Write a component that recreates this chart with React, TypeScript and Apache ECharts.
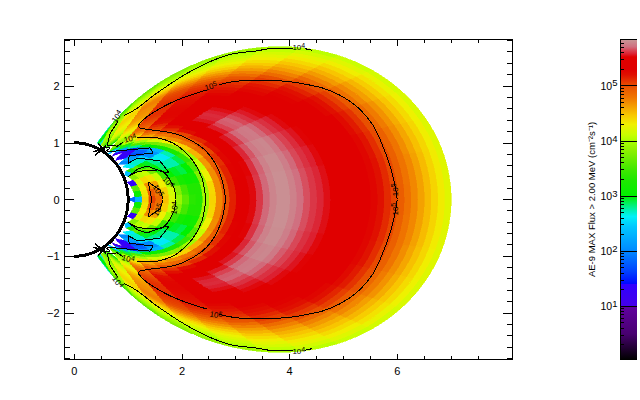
import React, { useEffect, useRef } from "react";
import * as echarts from "echarts";

const latitudeStep = 5;
const shellWidth = 0.125;
const shellCenters = [
  6.9375, 6.8125, 6.6875, 6.5625, 6.4375, 6.3125, 6.1875, 6.0625, 5.9375, 5.8125, 5.6875, 5.5625,
  5.4375, 5.3125, 5.1875, 5.0625, 4.9375, 4.8125, 4.6875, 4.5625, 4.4375, 4.3125, 4.1875, 4.0625,
  3.9375, 3.8125, 3.6875, 3.5625, 3.4375, 3.3125, 3.1875, 3.0625, 2.9375, 2.8125, 2.6875, 2.5625,
  2.4375, 2.3125, 2.1875, 2.0625, 1.9375, 1.8125, 1.6875, 1.5625, 1.4375, 1.3125, 1.1875, 1.0625,
];
// log10 flux along each shell, one value per 5 degrees of magnetic latitude
const logFlux = [
  [4.22, 4.22, 4.21, 4.19, 4.16, 4.12, 4.07, 4.0, 3.93, 3.85, 3.76, 3.6, 3.4, 2.6],
  [4.32, 4.32, 4.31, 4.29, 4.26, 4.22, 4.16, 4.09, 4.01, 3.92, 3.83, 3.72, 3.5, 2.8],
  [4.42, 4.42, 4.41, 4.39, 4.36, 4.31, 4.25, 4.17, 4.08, 3.99, 3.9, 3.82, 3.6, 2.9],
  [4.52, 4.52, 4.5, 4.48, 4.45, 4.39, 4.32, 4.24, 4.14, 4.05, 3.98, 3.92, 3.7, 3.0],
  [4.62, 4.62, 4.6, 4.58, 4.54, 4.48, 4.4, 4.31, 4.21, 4.12, 4.05, 3.98, 3.8, 3.0],
  [4.72, 4.72, 4.7, 4.68, 4.63, 4.56, 4.48, 4.38, 4.28, 4.2, 4.12, 4.03, 3.85, 3.05],
  [4.82, 4.81, 4.8, 4.77, 4.72, 4.65, 4.56, 4.46, 4.36, 4.28, 4.2, 4.1, 3.9, 3.1],
  [4.93, 4.92, 4.91, 4.87, 4.82, 4.74, 4.64, 4.55, 4.45, 4.37, 4.28, 4.16, 3.95, 3.1],
  [5.03, 5.03, 5.02, 5.0, 4.95, 4.86, 4.74, 4.64, 4.55, 4.47, 4.37, 4.22, 3.98, 3.0],
  [5.12, 5.12, 5.11, 5.09, 5.05, 5.0, 4.85, 4.74, 4.66, 4.58, 4.46, 4.28, 4.0, 2.9],
  [5.2, 5.2, 5.19, 5.17, 5.13, 5.07, 5.0, 4.84, 4.76, 4.68, 4.55, 4.34, 4.02, 2.8],
  [5.27, 5.27, 5.26, 5.24, 5.2, 5.14, 5.06, 4.97, 4.87, 4.78, 4.64, 4.38, 4.02, 2.7],
  [5.33, 5.33, 5.32, 5.3, 5.26, 5.2, 5.12, 5.02, 4.97, 4.9, 4.72, 4.42, 4.0, 2.5],
  [5.38, 5.38, 5.37, 5.35, 5.31, 5.25, 5.18, 5.1, 5.04, 5.0, 4.75, 4.42, 3.98, 2.4],
  [5.42, 5.42, 5.41, 5.39, 5.35, 5.29, 5.22, 5.14, 5.08, 5.03, 4.75, 4.4, 3.95],
  [5.45, 5.45, 5.44, 5.42, 5.38, 5.33, 5.26, 5.18, 5.12, 5.05, 4.72, 4.38, 3.92],
  [5.48, 5.48, 5.47, 5.45, 5.42, 5.37, 5.3, 5.22, 5.15, 5.07, 4.7, 4.35, 3.9],
  [5.52, 5.52, 5.51, 5.49, 5.46, 5.42, 5.35, 5.27, 5.18, 5.09, 4.7, 4.33, 3.88],
  [5.55, 5.55, 5.54, 5.53, 5.5, 5.46, 5.4, 5.31, 5.2, 5.1, 4.68, 4.3, 3.85],
  [5.59, 5.59, 5.58, 5.56, 5.54, 5.5, 5.44, 5.34, 5.22, 5.1, 4.66, 4.28, 3.8],
  [5.62, 5.62, 5.61, 5.6, 5.58, 5.54, 5.48, 5.37, 5.23, 5.1, 4.64, 4.25, 3.7],
  [5.66, 5.66, 5.65, 5.64, 5.61, 5.57, 5.51, 5.4, 5.25, 5.1, 4.6, 4.2, 3.6],
  [5.71, 5.71, 5.7, 5.68, 5.65, 5.61, 5.55, 5.43, 5.26, 5.1, 4.55, 4.15, 3.4],
  [5.77, 5.77, 5.76, 5.74, 5.7, 5.65, 5.58, 5.45, 5.27, 5.08, 4.5, 4.08, 3.2],
  [5.82, 5.82, 5.81, 5.79, 5.75, 5.69, 5.6, 5.47, 5.27, 5.05, 4.42, 3.95],
  [5.82, 5.82, 5.81, 5.78, 5.74, 5.68, 5.59, 5.46, 5.26, 5.02, 4.36, 3.8],
  [5.78, 5.78, 5.77, 5.74, 5.7, 5.64, 5.56, 5.43, 5.24, 4.98, 4.3, 3.6],
  [5.7, 5.7, 5.69, 5.67, 5.63, 5.57, 5.5, 5.38, 5.2, 4.92, 4.2, 3.3],
  [5.62, 5.62, 5.61, 5.59, 5.56, 5.5, 5.42, 5.31, 5.12, 4.85, 4.1],
  [5.54, 5.54, 5.53, 5.5, 5.46, 5.4, 5.32, 5.2, 5.05, 4.75, 4.0],
  [5.42, 5.42, 5.41, 5.39, 5.35, 5.3, 5.22, 5.1, 4.95, 4.6, 3.9],
  [5.3, 5.3, 5.29, 5.26, 5.2, 5.12, 5.03, 4.95, 4.78, 4.4, 3.8],
  [5.15, 5.15, 5.14, 5.1, 5.03, 4.95, 4.87, 4.78, 4.6, 4.25, 3.7],
  [5.0, 5.0, 4.99, 4.93, 4.85, 4.78, 4.7, 4.6, 4.4, 4.0, 3.1],
  [4.72, 4.72, 4.7, 4.65, 4.55, 4.42, 4.3, 4.15, 3.97, 3.4, 2.4],
  [4.42, 4.4, 4.28, 4.1, 3.95, 3.82, 3.75, 3.7, 3.55, 2.9],
  [3.95, 3.93, 3.78, 3.55, 3.4, 3.25, 3.15, 3.0, 2.8, 2.2],
  [3.3, 3.3, 3.15, 3.0, 2.9, 2.75, 2.3, 2.0, 1.5, 1.1],
  [3.35, 3.3, 3.1, 2.9, 2.75, 2.6, 2.1, 1.8, 1.2],
  [3.6, 3.5, 3.2, 2.95, 2.75, 2.65, 2.0, 1.7, 1.3],
  [3.9, 3.8, 3.45, 3.05, 2.85, 2.8, 2.5, 2.1, 1.4],
  [4.2, 4.15, 3.95, 3.45, 3.05, 2.95, 2.7, 2.2],
  [4.5, 4.45, 4.3, 4.1, 3.7, 3.2, 2.7, 2.0],
  [4.85, 4.8, 4.6, 4.35, 4.1, 3.6, 2.6],
  [5.05, 4.95, 4.7, 4.4, 4.05, 3.3],
  [4.4, 4.35, 4.3, 4.2, 3.8, 2.4],
  [2.3, 3.1, 3.6, 1.3],
  [1.8],
];

const barLevels = [0.03, 0.5, 1.0, 1.0, 1.41, 1.41, 1.63, 2.0, 2.45, 2.63, 2.8, 3.0, 3.3, 3.48, 3.84, 4.0, 4.11, 4.3, 4.47, 4.78, 5.0, 5.2, 5.3, 5.525, 5.58, 5.65, 5.71, 5.85];
const barColors = ["#000000", "#480070", "#6000a0", "#4400e8", "#3000ff", "#0008ff", "#0040ff", "#0088ff", "#00c8ff", "#00f0f8", "#00f090", "#00f000", "#20e800", "#40e800", "#90f000", "#a8ff00", "#c8ff00", "#f0f000", "#f8c800", "#f07800", "#e85000", "#e01000", "#e00000", "#e00000", "#dc2030", "#d84858", "#d07080", "#c89898"];
const barDecades = [1, 2, 3, 4, 5];
const barMinorFlux = [2, 3, 4, 5, 6, 7, 8, 9, 20, 30, 40, 50, 60, 70, 80, 90, 200, 300, 400, 500, 600, 700, 800, 900, 2000, 3000, 4000, 5000, 6000, 7000, 8000, 9000, 20000, 30000, 40000, 50000, 60000, 70000, 80000, 90000, 200000, 300000, 400000, 500000, 600000, 700000];

const xMajor = [0, 2, 4, 6];
const xMinor = [0.5, 1, 1.5, 2.5, 3, 3.5, 4.5, 5, 5.5, 6.5, 7, 7.5];
const yMajor = [-2, -1, 0, 1, 2];
const yMinor = [-2.8, -2.6, -2.4, -2.2, -1.8, -1.6, -1.4, -1.2, -0.8, -0.6, -0.4, -0.2, 0.2, 0.4, 0.6, 0.8, 1.2, 1.4, 1.6, 1.8, 2.2, 2.4, 2.6, 2.8];

type P = [number, number];
const contourOuter4a: P[] = [[4.28, 2.66], [4.41, 2.63]];
const contourOuter4b: P[] = [[4.06, 2.66], [3.69, 2.66], [3.39, 2.62], [2.83, 2.54], [2.2, 2.28], [1.54, 1.88], [1.17, 1.61], [0.93, 1.48]];
const contourOuter4c: P[] = [[0.81, 1.37], [0.67, 1.17], [0.61, 0.96], [0.8, 0.94], [0.91, 1.01]];
const contourSlot4: P[] = [[1.17, 1.1], [1.41, 1.1], [1.69, 1.05], [1.93, 0.94], [2.2, 0.69], [2.37, 0.38], [2.44, 0]];
const contourOuter5a: P[] = [[2.69, 2.02], [2.8, 2.05], [3.07, 2.09], [3.48, 2.1], [4.19, 2.05], [4.93, 1.84], [5.48, 1.4], [5.76, 0.87], [5.91, 0.44], [6.0, 0]];
const contourOuter5b: P[] = [[2.46, 1.93], [1.83, 1.72], [1.35, 1.46], [1.19, 1.31]];
const contourOuter5c: P[] = [[1.19, 1.31], [1.22, 1.26], [1.83, 1.17], [2.11, 1.07], [2.46, 0.84], [2.7, 0.47], [2.81, 0]];
const contourSlot3: P[] = [[0.61, 0.84], [1.41, 0.91], [1.46, 0.82], [1.02, 0.77], [1.0, 0.64], [1.185, 0.73], [1.59, 0.68], [1.76, 0.47], [1.69, 0.47], [1.35, 0.59], [1.167, 0.53], [1.04, 0.43]];
const contourInner4: P[] = [[1.0, 0.4], [1.185, 0.49], [1.555, 0.52], [1.81, 0.29], [1.89, 0]];
const contourInner5: P[] = [[1.44, 0], [1.37, 0.31], [1.59, 0.17], [1.65, 0]];
const contourBurst: P[] = [[0.33, 0.94], [0.48, 0.87], [0.35, 0.84], [0.5, 0.89], [0.39, 0.78], [0.54, 0.89], [0.44, 1.0], [0.52, 0.87], [0.59, 0.96], [0.54, 0.82], [0.67, 0.91], [0.48, 0.91]];
const smoothContours = [contourOuter4a, contourOuter4b, contourSlot4, contourOuter5a, contourOuter5b, contourOuter5c, contourInner4];
const sharpContours = [contourOuter4c, contourSlot3, contourInner5, contourBurst];

// x, y, exponent, rotation in degrees
const contourLabels: [number, number, number, number][] = [
  [4.17, 2.68, 4, 0], [2.54, 1.99, 5, 15], [0.8, 1.46, 4, 55], [1.04, 1.07, 4, 15], [1.74, 0.3, 4, -50], [1.55, 0.15, 5, -60], [5.96, 0.17, 5, 90],
  [4.17, -2.68, 4, 0], [2.63, -2.04, 5, -10], [0.8, -1.46, 4, -55], [1.0, -1.05, 4, -15], [1.87, -0.15, 4, 80], [1.56, -0.19, 5, 60], [5.96, -0.17, 5, 90],
];

const FONT = "Liberation Sans";
const deg = Math.PI / 180;
const field = (L: number, lat: number): P => {
  const c = Math.cos(lat * deg);
  return [L * c * c * c, L * c * c * Math.sin(lat * deg)];
};
const clipLat = (L: number, r: number) => (L <= r ? 0 : Math.acos(Math.sqrt(r / L)) / deg);
const colorFor = (v: number) => {
  for (let i = 1; i < barLevels.length; i++) {
    if (v <= barLevels[i] && barLevels[i] > barLevels[i - 1]) {
      const t = (v - barLevels[i - 1]) / (barLevels[i] - barLevels[i - 1]);
      const a = barColors[i - 1], b = barColors[i];
      const mix = (k: number) => {
        const p = parseInt(a.slice(k, k + 2), 16), q = parseInt(b.slice(k, k + 2), 16);
        return Math.round(p + (q - p) * t).toString(16).padStart(2, "0");
      };
      return "#" + mix(1) + mix(3) + mix(5);
    }
  }
  return barColors[barColors.length - 1];
};

const cells: number[][] = [];
shellCenters.forEach((L, i) => logFlux[i].forEach((v, j) => {
  cells.push([L, j * latitudeStep, 1, v]);
  cells.push([L, j * latitudeStep, -1, v]);
}));

const supRich = (size: number) => ({
  b: { fontFamily: FONT, fontSize: size, color: "#000", fill: "#000" },
  s: { fontFamily: FONT, fontSize: size - 1, color: "#000", fill: "#000", padding: [0, 0, Math.round(size * 0.55), 0] },
});

const mirror = (pts: P[]): P[] => pts.map(([x, y]) => [x, -y]);
const frame = { onZero: false, lineStyle: { color: "#000", width: 1 } };

function buildOption(): any {
  const lineSeries: any[] = [];
  const addLines = (list: P[][], smooth: number) => list.forEach((c) => {
    [c, mirror(c)].forEach((data) => lineSeries.push({
      type: "line", xAxisIndex: 0, yAxisIndex: 0, data, symbol: "none", silent: true, z: 5, smooth,
      lineStyle: { color: "#000", width: 1 },
    }));
  });
  addLines(smoothContours, 0.4);
  addLines(sharpContours, 0);
  return {
    animation: false,
    backgroundColor: "#fff",
    tooltip: { show: false },
    grid: [
      { left: 64.5, top: 39.5, width: 447.5, height: 320 },
      { left: 620.5, top: 39.5, width: 16, height: 320 },
    ],
    xAxis: [
      {
        gridIndex: 0, type: "value", min: -0.182, max: 8.13, position: "bottom", splitLine: { show: false }, axisLine: frame,
        axisTick: { inside: true, length: 6, customValues: xMajor, lineStyle: { color: "#000" } },
        axisLabel: { customValues: xMajor, margin: 6, fontFamily: FONT, fontSize: 11, color: "#000" },
      },
      {
        gridIndex: 0, type: "value", min: -0.182, max: 8.13, position: "top", splitLine: { show: false }, axisLine: frame,
        axisTick: { inside: true, length: 6, customValues: xMajor, lineStyle: { color: "#000" } },
        axisLabel: { show: false },
      },
      { gridIndex: 1, type: "value", min: 0, max: 1, position: "bottom", splitLine: { show: false }, axisLine: frame, axisTick: { show: false }, axisLabel: { show: false } },
      { gridIndex: 1, type: "value", min: 0, max: 1, position: "top", splitLine: { show: false }, axisLine: frame, axisTick: { show: false }, axisLabel: { show: false } },
    ],
    yAxis: [
      {
        gridIndex: 0, type: "value", min: -2.82, max: 2.82, position: "left", splitLine: { show: false }, axisLine: frame,
        axisTick: { inside: true, length: 9, customValues: yMajor, lineStyle: { color: "#000" } },
        axisLabel: { customValues: yMajor, margin: 5, fontFamily: FONT, fontSize: 11, color: "#000", formatter: (v: number) => (v < 0 ? "\u2212" + -v : String(v)) },
      },
      {
        gridIndex: 0, type: "value", min: -2.82, max: 2.82, position: "right", splitLine: { show: false }, axisLine: frame,
        axisTick: { inside: true, length: 9, customValues: yMajor, lineStyle: { color: "#000" } },
        axisLabel: { show: false },
      },
      {
        gridIndex: 1, type: "value", min: 0.036, max: 5.842, position: "left", splitLine: { show: false },
        name: "AE-9 MAX Flux > 2.00 MeV (cm\u207B\u00B2s\u207B\u00B9)",
        nameLocation: "middle", nameRotate: 90, nameGap: 24,
        nameTextStyle: { fontFamily: FONT, fontSize: 9.5, color: "#000" },
        axisLine: frame, axisTick: { show: false },
        axisLabel: { customValues: barDecades, margin: 3, color: "#000", formatter: (v: number) => `{b|10}{s|${v}}`, rich: supRich(10.5) },
      },
      { gridIndex: 1, type: "value", min: 0.036, max: 5.842, position: "right", splitLine: { show: false }, axisLine: frame, axisTick: { show: false }, axisLabel: { show: false } },
    ],
    series: [
      {
        type: "custom", name: "flux", xAxisIndex: 0, yAxisIndex: 0, silent: true, z: 2, data: cells, clip: true,
        renderItem: (_: any, api: any) => {
          const L = api.value(0), lat = api.value(1), sign = api.value(2), v = api.value(3);
          const lo = L - shellWidth / 2, hi = L + shellWidth / 2;
          const latLo = Math.max(0, lat - latitudeStep / 2);
          const latHi = lat + latitudeStep / 2;
          const rMin = L < 2.75 ? 1.03 : 1.08;
          const endHi = Math.max(latLo, Math.min(latHi, clipLat(hi, rMin)));
          const endLo = Math.max(latLo, Math.min(latHi, clipLat(lo, rMin)));
          if (clipLat(hi, rMin) <= latLo && lat > 0) return null;
          const pts: number[][] = [];
          for (let k = 0; k <= 4; k++) {
            const [x, y] = field(hi, latLo + ((endHi - latLo) * k) / 4);
            pts.push(api.coord([x, sign * y]));
          }
          for (let k = 4; k >= 0; k--) {
            const [x, y] = field(lo, latLo + ((endLo - latLo) * k) / 4);
            pts.push(api.coord([x, sign * y]));
          }
          const fill = colorFor(v);
          return { type: "polygon", shape: { points: pts }, style: { fill, stroke: fill, lineWidth: 0.6 } };
        },
      },
      ...lineSeries,
      {
        type: "custom", name: "earth", xAxisIndex: 0, yAxisIndex: 0, silent: true, z: 6, data: [[0, 0, 1]],
        renderItem: (_: any, api: any) => {
          const r = api.value(2);
          const pts: number[][] = [];
          for (let a = 90; a >= -90; a -= 3) pts.push(api.coord([r * Math.cos(a * deg), r * Math.sin(a * deg)]));
          return { type: "polyline", shape: { points: pts }, style: { stroke: "#000", lineWidth: 3, fill: "none" } };
        },
      },
      {
        type: "custom", name: "contour labels", xAxisIndex: 0, yAxisIndex: 0, silent: true, z: 7, data: contourLabels,
        renderItem: (_: any, api: any) => {
          const p = api.coord([api.value(0), api.value(1)]);
          return {
            type: "text", x: p[0], y: p[1], rotation: api.value(3) * deg,
            style: { text: `{b|10}{s|${api.value(2)}}`, rich: supRich(8), align: "center", verticalAlign: "middle", fill: "#000" },
          };
        },
      },
      {
        type: "custom", name: "x ticks", xAxisIndex: 0, yAxisIndex: 0, silent: true, z: 8, data: xMinor.map((x) => [x]),
        renderItem: (_: any, api: any) => {
          const a = api.coord([api.value(0), -2.82]), b = api.coord([api.value(0), 2.82]);
          return {
            type: "group", children: [
              { type: "line", shape: { x1: a[0], y1: a[1], x2: a[0], y2: a[1] - 3.5 }, style: { stroke: "#000", lineWidth: 1 } },
              { type: "line", shape: { x1: b[0], y1: b[1], x2: b[0], y2: b[1] + 3.5 }, style: { stroke: "#000", lineWidth: 1 } },
            ],
          };
        },
      },
      {
        type: "custom", name: "y ticks", xAxisIndex: 0, yAxisIndex: 0, silent: true, z: 8, data: yMinor.map((y) => [y]),
        renderItem: (_: any, api: any) => {
          const a = api.coord([-0.182, api.value(0)]), b = api.coord([8.13, api.value(0)]);
          return {
            type: "group", children: [
              { type: "line", shape: { x1: a[0], y1: a[1], x2: a[0] + 5, y2: a[1] }, style: { stroke: "#000", lineWidth: 1 } },
              { type: "line", shape: { x1: b[0], y1: b[1], x2: b[0] - 5, y2: b[1] }, style: { stroke: "#000", lineWidth: 1 } },
            ],
          };
        },
      },
      {
        type: "custom", name: "colour bar", xAxisIndex: 2, yAxisIndex: 2, silent: true, z: 2, data: [[0, 1, 0.036, 5.842]],
        renderItem: (_: any, api: any) => {
          const a = api.coord([api.value(0), api.value(3)]), b = api.coord([api.value(1), api.value(2)]);
          const lo = api.value(2), hi = api.value(3);
          const stops = barLevels.map((l, i) => ({ offset: Math.min(1, Math.max(0, (hi - l) / (hi - lo))), color: barColors[i] })).reverse();
          return {
            type: "rect", shape: { x: a[0], y: a[1], width: b[0] - a[0], height: b[1] - a[1] },
            style: { fill: new echarts.graphic.LinearGradient(0, 0, 0, 1, stops) },
          };
        },
      },
      {
        type: "custom", name: "bar decades", xAxisIndex: 2, yAxisIndex: 2, silent: true, z: 8, data: barDecades.map((d) => [d]),
        renderItem: (_: any, api: any) => {
          const a = api.coord([0, api.value(0)]), b = api.coord([1, api.value(0)]);
          return { type: "line", shape: { x1: a[0], y1: a[1], x2: b[0], y2: a[1] }, style: { stroke: "#000", lineWidth: 1 } };
        },
      },
      {
        type: "custom", name: "bar minor", xAxisIndex: 2, yAxisIndex: 2, silent: true, z: 8, data: barMinorFlux.map((f) => [Math.log10(f)]),
        renderItem: (_: any, api: any) => {
          const a = api.coord([0, api.value(0)]);
          return { type: "line", shape: { x1: a[0], y1: a[1], x2: a[0] + 3.5, y2: a[1] }, style: { stroke: "#000", lineWidth: 1 } };
        },
      },
    ],
  };
}

export default function App() {
  const ref = useRef<HTMLDivElement>(null);
  useEffect(() => {
    document.body.style.margin = "0";
    const chart = echarts.init(ref.current!, undefined, { renderer: "svg" });
    chart.setOption(buildOption());
    return () => chart.dispose();
  }, []);
  return (
    <>
      <style>{`svg path { shape-rendering: crispEdges; }`}</style>
      <div ref={ref} style={{ width: 640, height: 400 }} />
    </>
  );
}
